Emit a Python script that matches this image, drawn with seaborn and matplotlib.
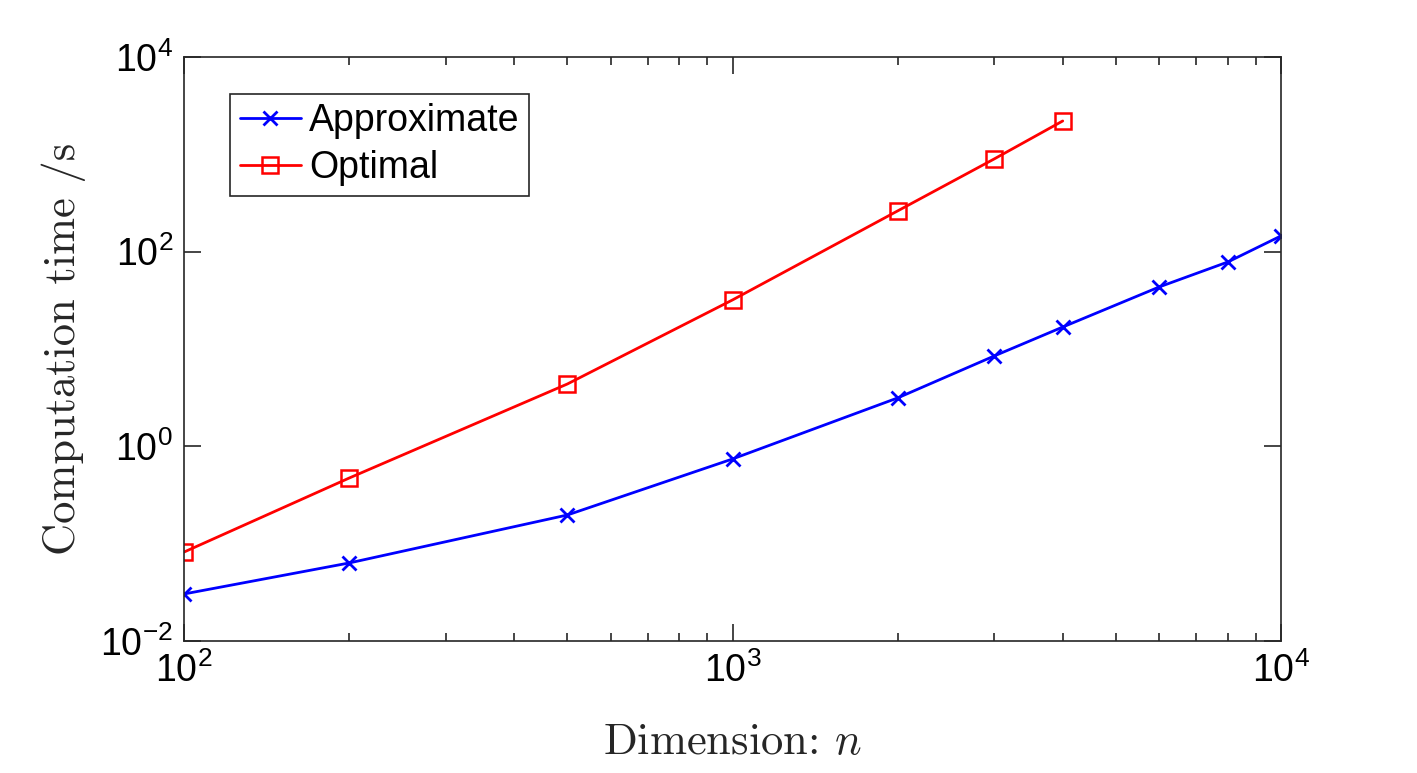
import numpy as np
import pandas as pd
import matplotlib
matplotlib.use('Agg')
import matplotlib.pyplot as plt
import seaborn as sns
from matplotlib.ticker import LogLocator, NullLocator, NullFormatter

# Values
dims_approx = [100, 200, 500, 1000, 2000, 3000, 4000, 6000, 8000, 10000]
time_approx = [0.0304, 0.0633, 0.197, 0.741, 3.14, 8.47, 16.8, 43.4, 78.3, 145]

dims_opt = [100, 200, 500, 1000, 2000, 3000, 4000]
time_opt = [0.082, 0.472, 4.37, 31.9, 262, 896, 2200]

sns.set_style('ticks')
plt.rcParams['font.family'] = ['Liberation Sans', 'DejaVu Sans']
plt.rcParams['mathtext.fontset'] = 'cm'
plt.rcParams['text.color'] = 'black'
plt.rcParams['xtick.labelcolor'] = 'black'
plt.rcParams['ytick.labelcolor'] = 'black'

fig = plt.figure(figsize=(14.17, 7.73), dpi=100)
ax = fig.add_axes([0.1299, 0.1708, 0.7741, 0.7555])

# x markers are line art and squares are filled, so draw one series per call
sns.lineplot(x=dims_approx, y=time_approx, color='#0000ff', marker='x',
             linewidth=2, markersize=10, markeredgewidth=2,
             markeredgecolor='#0000ff', label='Approximate', ax=ax)
sns.lineplot(x=dims_opt, y=time_opt, color='#ff0000', marker='s',
             linewidth=2, markersize=11, markeredgewidth=1.8,
             markerfacecolor='none', markeredgecolor='#ff0000',
             label='Optimal', ax=ax)

ax.set_xscale('log')
ax.set_yscale('log')
ax.set_xlim(100, 10000)
ax.set_ylim(1e-2, 1e4)

ax.yaxis.set_major_locator(LogLocator(base=100))
ax.yaxis.set_minor_locator(NullLocator())
ax.xaxis.set_minor_locator(LogLocator(base=10, subs=np.arange(2, 10)))
ax.xaxis.set_minor_formatter(NullFormatter())

ax.tick_params(which='both', direction='in', top=True, right=True,
               color='#262626', width=1.2)
ax.tick_params(which='major', length=12, labelsize=27, pad=8)
ax.tick_params(which='minor', length=6)
for s in ax.spines.values():
    s.set_color('#262626')
    s.set_linewidth(1.2)

ax.set_xlabel('Dimension: $n$', fontsize=32, family='cmr10', labelpad=24)
ax.set_ylabel('Computation time /s', fontsize=32, family='cmr10', labelpad=10)

leg = ax.legend(loc='upper left', bbox_to_anchor=(0.042, 0.937), fontsize=27,
                frameon=True, fancybox=False, framealpha=1, edgecolor='#262626',
                handlelength=1.65, handletextpad=0.2, borderpad=0.25,
                labelspacing=0.3, borderaxespad=0)
leg.get_frame().set_linewidth(1.2)

fig.savefig('out.png', dpi=100)
